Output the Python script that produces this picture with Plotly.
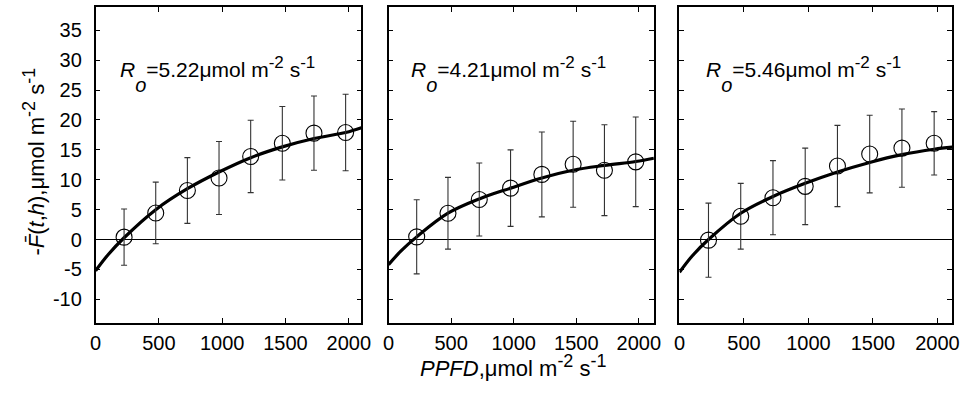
import plotly.graph_objects as go

# ---------------- data ----------------
ppfd = [225, 475, 725, 975, 1225, 1475, 1725, 1975]

flux_1 = [0.4, 4.45, 8.2, 10.3, 13.9, 16.1, 17.8, 17.9]
err_1 = [4.7, 5.15, 5.5, 6.1, 6.05, 6.15, 6.2, 6.4]
flux_2 = [0.45, 4.4, 6.7, 8.6, 10.9, 12.6, 11.6, 13.0]
err_2 = [6.2, 6.0, 6.1, 6.4, 7.1, 7.2, 7.6, 7.5]
flux_3 = [-0.1, 3.9, 7.0, 8.9, 12.3, 14.3, 15.3, 16.1]
err_3 = [6.2, 5.5, 6.2, 6.4, 6.8, 6.5, 6.55, 5.3]

fit_x_1 = [0, 100, 225, 475, 725, 975, 1225, 1475, 1725, 1975, 2100]
fit_y_1 = [-5.22, -2.5, 0.3, 5.0, 8.5, 11.3, 13.7, 15.5, 16.9, 17.9, 18.7]
fit_x_2 = [0, 100, 225, 475, 725, 975, 1225, 1475, 1725, 1975, 2120]
fit_y_2 = [-4.21, -1.9, 0.45, 4.4, 6.8, 8.6, 10.3, 11.6, 12.4, 13.05, 13.6]
fit_x_3 = [0, 100, 225, 475, 725, 975, 1225, 1475, 1725, 1975, 2115]
fit_y_3 = [-5.46, -2.7, 0.0, 4.4, 7.2, 9.4, 11.3, 12.9, 14.2, 15.1, 15.45]

r_o = ["5.22", "4.21", "5.46"]

y_tickvals = [-10, -5, 0, 5, 10, 15, 20, 25, 30, 35]
y_ticktext = ["-10", "-5", "0", "5", "10", "15", "20", "25", "30", "35"]
x_tickvals = [0, 500, 1000, 1500, 2000]
x_ticktext = ["0", "500", "1000", "1500", "2000"]

# ---------------- layout helpers ----------------
W, H = 975, 394
FONT = "Liberation Sans, Arial, Helvetica, sans-serif"
TICK_SIZE = 20
TXT_SIZE = 21
panels_px = [(91, 361, 2100), (388.5, 658, 2120), (684, 961, 2115)]
y_top, y_bot = 7, 323

fluxes = [flux_1, flux_2, flux_3]
errs = [err_1, err_2, err_3]
fits = [(fit_x_1, fit_y_1), (fit_x_2, fit_y_2), (fit_x_3, fit_y_3)]


def sup(s, size=17):
    return f"<sup><span style='font-size:{size}px'>{s}</span></sup>"


def sub(s):
    return f"<sub><span style='font-size:20px;baseline-shift:-11px'>{s}</span></sub>"


fig = go.Figure()
for i in range(3):
    xa = "x" if i == 0 else f"x{i+1}"
    ya = "y" if i == 0 else f"y{i+1}"
    fx, fy = fits[i]
    fig.add_trace(go.Scatter(
        x=fx, y=fy, xaxis=xa, yaxis=ya, mode="lines",
        line=dict(color="black", width=3.2, shape="spline", smoothing=1.0),
        hoverinfo="skip", showlegend=False))
    fig.add_trace(go.Scatter(
        x=ppfd, y=fluxes[i], xaxis=xa, yaxis=ya, mode="markers",
        marker=dict(symbol="circle-open", size=16, color="black",
                    line=dict(width=1.1, color="black")),
        error_y=dict(type="data", array=errs[i], visible=True,
                     thickness=1.1, width=3, color="#333333"),
        hoverinfo="skip", showlegend=False))

layout = dict(
    width=W, height=H,
    margin=dict(l=0, r=0, t=0, b=0),
    paper_bgcolor="white", plot_bgcolor="white",
    font=dict(family=FONT, size=TICK_SIZE, color="black"),
    showlegend=False,
)

ydom = [(H - y_bot) / H, (H - y_top) / H]
for i, (l, r, xmax) in enumerate(panels_px):
    sfx = "" if i == 0 else str(i + 1)
    layout["xaxis" + sfx] = dict(
        domain=[l / W, r / W], range=[0, xmax],
        anchor="y" + sfx,
        tickvals=x_tickvals, ticktext=x_ticktext,
        ticks="inside", ticklen=5, tickwidth=1, tickcolor="black",
        showline=True, linewidth=1.6, linecolor="black", mirror="ticks",
        showgrid=False, zeroline=False,
        ticklabelstandoff=1,
        tickfont=dict(family=FONT, size=TICK_SIZE, color="black"),
    )
    layout["yaxis" + sfx] = dict(
        domain=ydom, range=[-13.96, 38.9],
        anchor="x" + sfx,
        tickvals=y_tickvals, ticktext=y_ticktext,
        showticklabels=(i == 0),
        ticks="inside", ticklen=5, tickwidth=1, tickcolor="black",
        showline=True, linewidth=1.6, linecolor="black", mirror="ticks",
        showgrid=False,
        zeroline=True, zerolinecolor="black", zerolinewidth=1,
        ticklabelstandoff=8,
        tickfont=dict(family=FONT, size=TICK_SIZE, color="black"),
    )

fig.update_layout(**layout)

annots = []
ann_x_px = [114, 409, 709]
for i in range(3):
    annots.append(dict(
        xref="paper", yref="paper",
        x=ann_x_px[i] / W, y=(H - 75) / H, xanchor="left", yanchor="middle",
        text=f"<i>R</i>{sub('<i>o</i>')}={r_o[i]}\u03bcmol m{sup('-2')} s{sup('-1')}",
        showarrow=False, font=dict(family=FONT, size=TXT_SIZE, color="black")))

annots.append(dict(
    xref="paper", yref="paper", x=515 / W, y=(H - 366) / H,
    xanchor="center", yanchor="middle",
    text=f"<i>PPFD</i>,\u03bcmol m{sup('-2', 18)} s{sup('-1', 18)}",
    showarrow=False, font=dict(family=FONT, size=22, color="black")))

annots.append(dict(
    xref="paper", yref="paper", x=28 / W, y=(H - 162) / H,
    xanchor="center", yanchor="middle", textangle=-90,
    text=f"-<i>F\u0304</i>(<i>t</i>,<i>h</i>),\u03bcmol m{sup('-2', 18)} s{sup('-1', 18)}",
    showarrow=False, font=dict(family=FONT, size=22, color="black")))

fig.update_layout(annotations=annots)
fig.write_html("out.html")
